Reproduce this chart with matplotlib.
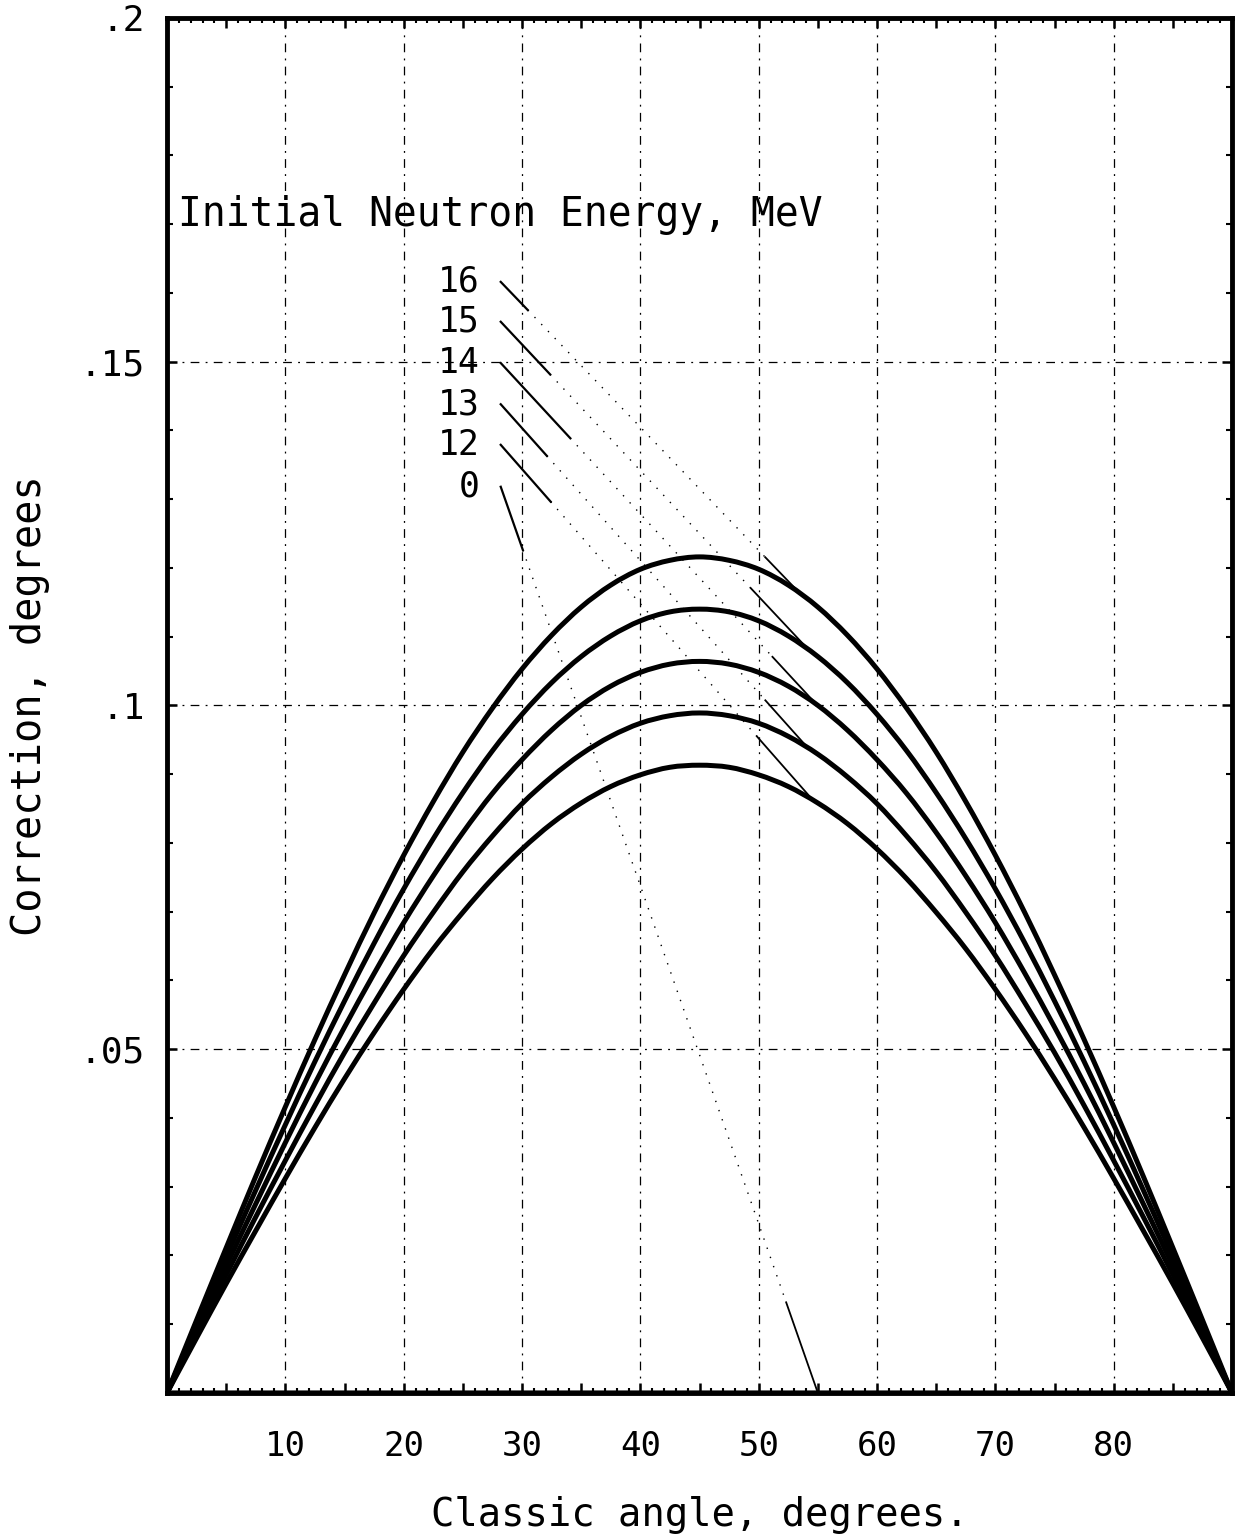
import numpy as np
import matplotlib
matplotlib.use("Agg")
import matplotlib.pyplot as plt
from matplotlib.ticker import MultipleLocator, FuncFormatter
from matplotlib.path import Path
from matplotlib.patches import PathPatch

plt.rcParams['font.family'] = ['DejaVu Sans Mono', 'DejaVu Sans']

# classic angle grid, degrees
angles = np.arange(0, 90.01, 2.5)

# correction (degrees) for each initial neutron energy
corr_16 = [0, .0106, .0211, .0315, .0416, .0514, .0608, .0698, .0782, .0860,
           .0932, .0996, .1053, .1102, .1143, .1175, .1198, .1211, .1216,
           .1211, .1198, .1175, .1143, .1102, .1053, .0996, .0932, .0860,
           .0782, .0698, .0608, .0514, .0416, .0315, .0211, .0106, 0]
corr_15 = [0, .0099, .0198, .0295, .0390, .0482, .0570, .0654, .0733, .0806,
           .0873, .0934, .0987, .1033, .1071, .1101, .1123, .1136, .1140,
           .1136, .1123, .1101, .1071, .1033, .0987, .0934, .0873, .0806,
           .0733, .0654, .0570, .0482, .0390, .0295, .0198, .0099, 0]
corr_14 = [0, .0093, .0185, .0275, .0364, .0450, .0532, .0610, .0684, .0752,
           .0815, .0872, .0921, .0964, .1000, .1028, .1048, .1060, .1064,
           .1060, .1048, .1028, .1000, .0964, .0921, .0872, .0815, .0752,
           .0684, .0610, .0532, .0450, .0364, .0275, .0185, .0093, 0]
corr_13 = [0, .0086, .0172, .0256, .0338, .0418, .0495, .0567, .0636, .0699,
           .0758, .0810, .0857, .0896, .0929, .0955, .0974, .0985, .0989,
           .0985, .0974, .0955, .0929, .0896, .0857, .0810, .0758, .0699,
           .0636, .0567, .0495, .0418, .0338, .0256, .0172, .0086, 0]
corr_12 = [0, .0080, .0159, .0236, .0312, .0386, .0457, .0524, .0587, .0646,
           .0699, .0748, .0791, .0828, .0858, .0882, .0899, .0910, .0913,
           .0910, .0899, .0882, .0858, .0828, .0791, .0748, .0699, .0646,
           .0587, .0524, .0457, .0386, .0312, .0236, .0159, .0080, 0]
corr_0 = [0.0] * len(angles)

energies = ['16', '15', '14', '13', '12', '0']
curves = [corr_16, corr_15, corr_14, corr_13, corr_12, corr_0]

# label placement and where each leader meets its curve
label_y = [0.1616, 0.1558, 0.1498, 0.1438, 0.1379, 0.1318]
leader_end = [53.6, 54.3, 54.9, 54.2, 54.6, 55.0]
solid_head = [0.09, 0.16, 0.22, 0.15, 0.16, 0.07]
solid_tail = [0.12, 0.19, 0.14, 0.14, 0.18, 0.10]


def smooth_path(x, y):
    # catmull-rom through the tabulated points, as cubic bezier segments
    p = np.column_stack([x, y]).astype(float)
    ext = np.vstack([p[0], p, p[-1]])
    verts = [p[0]]
    codes = [Path.MOVETO]
    for i in range(1, len(ext) - 2):
        c1 = ext[i] + (ext[i + 1] - ext[i - 1]) / 6.0
        c2 = ext[i + 1] - (ext[i + 2] - ext[i]) / 6.0
        verts += [c1, c2, ext[i + 1]]
        codes += [Path.CURVE4] * 3
    return Path(verts, codes)


fig = plt.figure(figsize=(12.38, 15.40), dpi=100)
ax = fig.add_axes([0.1349, 0.0955, 0.8603, 0.8929])

for c in curves:
    ax.add_patch(PathPatch(smooth_path(angles, c), fill=False, ec='black',
                           lw=3.6, capstyle='round', joinstyle='round', zorder=3))

# grid
grid_ls = (0, (7, 5, 1.5, 5))
for g in range(10, 90, 10):
    ax.axvline(g, color='black', lw=0.9, ls=grid_ls, zorder=1)
for g in [0.05, 0.1, 0.15]:
    ax.axhline(g, color='black', lw=0.9, ls=grid_ls, zorder=1)

# labels + leaders
lx = 26.45
sx = 28.2
for name, ly, c, ex, fh, ft in zip(energies, label_y, curves, leader_end,
                                   solid_head, solid_tail):
    ax.text(lx, ly, name, ha='right', va='center', fontsize=25)
    ey = np.interp(ex, angles, c)
    p0 = np.array([sx, ly])
    p1 = np.array([ex, ey])
    a = p0 + (p1 - p0) * fh
    b = p1 - (p1 - p0) * ft
    ax.plot([p0[0], a[0]], [p0[1], a[1]], color='black', lw=1.6, zorder=2)
    ax.plot([a[0], b[0]], [a[1], b[1]], color='black', lw=1.0,
            ls=(0, (1, 6)), zorder=2)
    ax.plot([b[0], p1[0]], [b[1], p1[1]], color='black', lw=1.3, zorder=2)

ax.text(0.97, 0.1713, 'Initial Neutron Energy, MeV', ha='left', va='center',
        fontsize=28.5)

ax.set_xlim(0, 90)
ax.set_ylim(0, 0.2)

ax.xaxis.set_major_locator(MultipleLocator(5))
ax.xaxis.set_minor_locator(MultipleLocator(1))
ax.yaxis.set_major_locator(MultipleLocator(0.05))
ax.yaxis.set_minor_locator(MultipleLocator(0.01))
ax.xaxis.set_major_formatter(FuncFormatter(
    lambda v, p: f'{int(round(v))}' if round(v) % 10 == 0 and 0 < v < 89 else ''))
ax.yaxis.set_major_formatter(FuncFormatter(
    lambda v, p: f'{v:.2f}'.lstrip('0').rstrip('0') if v > 0.001 else ''))

ax.tick_params(which='both', direction='in', top=True, right=True, color='black')
ax.tick_params(axis='x', which='major', length=7, width=1.8, pad=27, labelsize=24.5)
ax.tick_params(axis='x', which='minor', length=3.5, width=1.5)
ax.tick_params(axis='y', which='major', length=7, width=1.8, pad=16, labelsize=26)
ax.tick_params(axis='y', which='minor', length=4.5, width=1.5)

for s in ax.spines.values():
    s.set_linewidth(3.5)

ax.set_xlabel('Classic angle, degrees.', fontsize=28)
ax.xaxis.set_label_coords(0.5, -0.0887)
ax.xaxis.label.set_va('center')
ax.set_ylabel('Correction, degrees', fontsize=29)
ax.yaxis.set_label_coords(-0.1286, 0.5)
ax.yaxis.label.set_va('center')

fig.savefig('out.png', dpi=100)
